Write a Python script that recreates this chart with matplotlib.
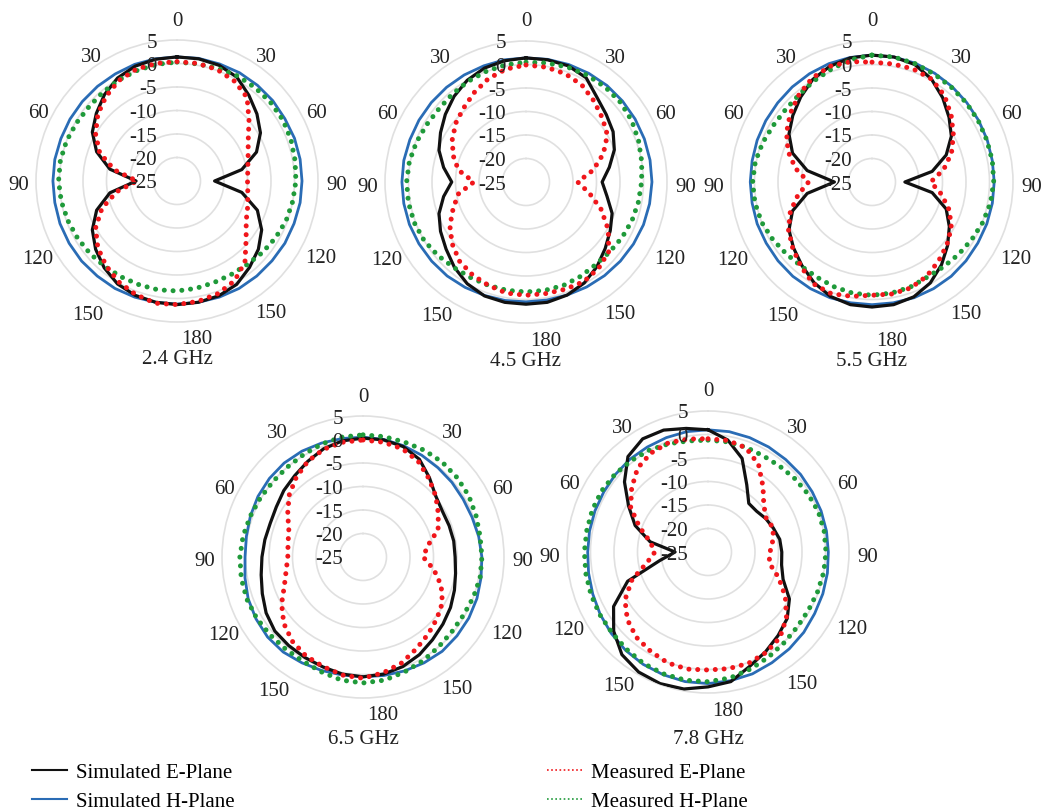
import numpy as np
import matplotlib
matplotlib.use("Agg")
import matplotlib.pyplot as plt
from matplotlib.lines import Line2D
from matplotlib.transforms import offset_copy

plt.rcParams['font.family'] = ['Liberation Serif', 'DejaVu Serif']

# angle (deg, clockwise from top) and gain in dB
angles = list(range(0, 360, 10))

freqs = ['2.4 GHz', '4.5 GHz', '5.5 GHz', '6.5 GHz', '7.8 GHz']

sim_e_24 = [1.4, 1.4, 1.2, 0.5, -1.2, -2.8, -4.5, -7.0, -11.0, -17.0, -11.0, -6.8,
            -4.2, -2.4, -1.0, 0.4, 1.0, 1.2, 1.3, 1.2, 0.9, 0.3, -0.9, -2.4,
            -4.2, -6.8, -10.5, -16.3, -10.5, -6.8, -4.2, -2.6, -1.0, 0.3, 1.0, 1.3]
sim_h_24 = [1.4, 1.5, 1.5, 1.6, 1.6, 1.6, 1.5, 1.6, 1.6, 1.6, 1.6, 1.5,
            1.5, 1.4, 1.4, 1.4, 1.3, 1.2, 1.2, 1.2, 1.3, 1.4, 1.4, 1.5,
            1.5, 1.5, 1.4, 1.4, 1.4, 1.3, 1.3, 1.3, 1.3, 1.3, 1.4, 1.4]
meas_e_24 = [0.4, 0.4, 0.2, -0.5, -1.8, -5.0, -7.5, -8.9, -9.7, -10.0, -9.7, -9.0,
             -8.0, -5.8, -2.5, -0.5, 0.5, 1.0, 1.3, 1.4, 0.7, -0.2, -1.5, -3.0,
             -5.0, -8.0, -12.0, -16.5, -11.5, -7.5, -5.0, -3.0, -1.5, -0.3, 0.3, 0.4]
meas_h_24 = [0.3, 0.3, 0.5, 0.8, 0.9, 1.0, 1.0, 0.8, 0.5, 0.3, 0.0, -0.3,
             -0.8, -1.3, -1.8, -2.0, -2.0, -1.8, -1.6, -1.5, -1.5, -1.4, -1.2, -0.9,
             -0.6, -0.3, 0.0, 0.2, 0.2, 0.0, -0.3, -0.5, -0.4, -0.2, 0.0, 0.2]

sim_e_45 = [1.4, 1.4, 1.3, 0.6, -1.5, -2.7, -3.6, -5.0, -7.0, -8.8, -7.5, -5.5,
            -4.3, -3.0, -1.5, -0.2, 0.6, 1.0, 1.0, 1.0, 0.8, 0.0, -1.3, -2.8,
            -4.0, -5.3, -7.2, -9.2, -7.2, -5.3, -4.0, -2.6, -1.2, 0.0, 0.8, 1.2]
sim_h_45 = [1.4, 1.5, 1.6, 1.7, 1.8, 1.8, 1.8, 1.8, 1.8, 1.8, 1.7, 1.6,
            1.4, 1.2, 1.0, 0.8, 0.6, 0.5, 0.5, 0.6, 0.7, 0.9, 1.1, 1.2,
            1.3, 1.4, 1.4, 1.4, 1.4, 1.3, 1.3, 1.3, 1.3, 1.3, 1.3, 1.4]
meas_e_45 = [-0.1, -0.2, -0.5, -1.2, -2.5, -3.8, -5.0, -7.5, -10.5, -14.0, -11.3, -8.0,
             -4.8, -2.0, -1.0, -0.5, -0.7, -0.9, -0.9, -1.0, -1.6, -2.2, -3.0, -4.5,
             -6.3, -8.5, -10.4, -13.9, -10.4, -8.5, -6.9, -5.5, -4.4, -3.0, -1.6, -0.6]
meas_h_45 = [0.5, 0.7, 1.0, 1.2, 1.3, 1.3, 1.0, 0.5, 0.0, -0.4, -0.7, -1.0,
             -1.4, -1.8, -2.0, -1.8, -1.6, -1.6, -1.6, -1.6, -1.6, -1.5, -1.2, -0.6,
             0.0, 0.3, 0.4, 0.4, 0.2, -0.2, -0.6, -0.8, -0.6, -0.3, 0.0, 0.3]

sim_e_55 = [2.0, 2.0, 1.6, 0.3, -1.6, -3.6, -5.5, -8.2, -12.0, -18.0, -12.0, -8.2,
            -6.0, -4.0, -2.0, -0.2, 1.0, 1.5, 1.6, 1.5, 0.9, -0.3, -1.8, -3.2,
            -4.6, -7.0, -11.0, -17.0, -11.0, -7.0, -4.6, -3.0, -1.4, 0.2, 1.2, 1.8]
sim_h_55 = [2.0, 2.0, 1.9, 1.7, 1.5, 1.3, 1.2, 1.1, 1.0, 1.0, 1.0, 1.0,
            1.0, 1.1, 1.2, 1.2, 1.2, 1.1, 1.1, 1.1, 1.2, 1.2, 1.2, 1.1,
            1.0, 1.0, 0.9, 0.9, 0.9, 1.0, 1.1, 1.2, 1.4, 1.6, 1.8, 1.9]
meas_e_55 = [0.5, 0.5, 0.6, 0.3, -1.0, -3.0, -5.0, -7.0, -9.5, -12.5, -10.0, -7.5,
             -5.5, -4.2, -3.0, -1.8, -1.0, -0.8, -0.9, -0.3, 0.3, 0.0, -1.5, -3.0,
             -4.5, -6.5, -9.0, -11.5, -8.5, -6.0, -4.0, -2.3, -0.8, 0.5, 1.2, 1.0]
meas_h_55 = [2.0, 2.0, 1.8, 1.5, 1.3, 1.2, 1.1, 1.0, 1.0, 0.9, 0.6, 0.1,
             -0.5, -1.0, -1.4, -1.6, -1.2, -1.0, -0.9, -1.0, -1.3, -1.6, -1.6, -1.2,
             -0.6, 0.0, 0.3, 0.4, 0.2, -0.3, -0.8, -1.0, -0.8, -0.2, 0.5, 1.4]

sim_e_65 = [0.3, 0.3, 0.0, -1.0, -3.0, -4.8, -5.5, -5.5, -5.4, -5.4, -5.0, -4.3,
            -3.5, -2.8, -2.0, -1.0, -0.2, 0.3, 0.5, 0.3, -0.1, -0.3, -0.4, -0.5,
            -1.2, -2.2, -3.0, -3.5, -3.8, -4.0, -3.7, -3.0, -2.4, -1.5, -0.5, 0.1]
sim_h_65 = [0.5, 0.4, 0.2, 0.0, -0.2, -0.3, -0.4, -0.3, 0.0, 0.3, 0.5, 0.8,
            1.0, 1.1, 1.2, 1.0, 0.8, 0.6, 0.5, 0.5, 0.7, 1.0, 1.4, 1.5,
            1.3, 1.0, 0.5, 0.1, 0.2, 0.5, 0.8, 1.0, 1.1, 1.0, 0.8, 0.6]
meas_e_65 = [-0.1, -0.2, -0.5, -1.5, -3.2, -4.8, -6.5, -8.0, -11.0, -12.2, -9.7, -7.3,
             -5.5, -4.5, -3.5, -2.4, -1.0, 0.0, 0.8, 0.5, -0.2, -0.7, -1.6, -3.0,
             -5.0, -7.2, -8.4, -9.0, -8.8, -8.2, -6.5, -4.5, -2.9, -1.5, -0.6, -0.2]
meas_h_65 = [1.0, 1.0, 1.0, 1.2, 1.3, 1.2, 1.0, 0.6, 0.3, 0.3, 0.3, 0.0,
             -0.3, -0.3, 0.0, 0.5, 1.0, 1.6, 1.8, 1.6, 1.0, 0.6, 0.6, 0.8,
             1.1, 1.3, 1.3, 1.2, 0.9, 0.5, 0.2, 0.0, 0.0, 0.2, 0.6, 0.9]

sim_e_78 = [1.0, -0.8, -3.8, -8.5, -11.5, -11.5, -10.8, -10.2, -9.5, -9.3, -9.1, -8.0,
            -5.0, -3.0, -1.8, -0.5, 0.9, 3.0, 3.7, 4.6, 4.8, 4.5, 3.5, 1.2,
            -1.8, -6.8, -14.6, -18.0, -12.5, -8.5, -5.5, -1.8, 1.5, 2.8, 2.6, 1.7]
sim_h_78 = [1.0, 1.0, 0.9, 0.8, 0.7, 0.7, 0.6, 0.6, 0.6, 0.6, 0.8, 1.0,
            1.2, 1.6, 1.9, 2.2, 2.6, 2.8, 3.0, 3.0, 2.8, 2.6, 2.3, 1.9,
            1.5, 1.1, 0.8, 0.6, 0.6, 0.6, 0.6, 0.7, 0.8, 0.8, 0.9, 1.0]
meas_e_78 = [-0.9, -0.9, -1.4, -3.5, -6.8, -9.5, -10.7, -10.2, -11.0, -11.8, -11.8, -9.0,
             -6.0, -3.2, -1.2, -0.3, 0.2, 0.2, 0.1, 0.3, 0.1, -0.6, -1.3, -2.6,
             -4.6, -7.8, -11.8, -13.7, -12.5, -9.5, -6.0, -3.8, -1.7, -0.7, -0.3, -0.6]
meas_h_78 = [-1.2, -1.2, -1.3, -1.4, -1.2, -0.8, -0.4, 0.0, 0.1, 0.1, 0.0, -0.2,
             -0.3, -0.2, 0.2, 0.8, 1.5, 2.2, 2.6, 2.7, 2.6, 2.4, 2.0, 1.7,
             1.6, 1.5, 1.4, 1.3, 1.2, 1.2, 1.1, 0.8, 0.4, 0.0, -0.5, -1.0]

sim_e = [sim_e_24, sim_e_45, sim_e_55, sim_e_65, sim_e_78]
sim_h = [sim_h_24, sim_h_45, sim_h_55, sim_h_65, sim_h_78]
meas_e = [meas_e_24, meas_e_45, meas_e_55, meas_e_65, meas_e_78]
meas_h = [meas_h_24, meas_h_45, meas_h_55, meas_h_65, meas_h_78]

r_ticks = [5, 0, -5, -10, -15, -20, -25]
theta_labels = ['0', '30', '60', '90', '120', '150', '180', '150', '120', '90', '60', '30']

W, H = 1042, 811
fig = plt.figure(figsize=(W / 100, H / 100), dpi=100)

# plot centres in pixels (from top-left) and caption offsets
centres = [(177, 181), (526, 182), (872, 182), (363, 557), (708, 552)]
cap_off = [179, 179, 179, 183, 188]
R = 141

# offsets (px) and alignment of the angle labels relative to the outer circle
lab_pos = [(0, 19, 'center'), (8, 1, 'left'), (7, -3, 'left'), (8, -5, 'left'),
           (6, -7, 'left'), (8, -10, 'left'), (20, -18, 'center'), (-3, -12, 'right'),
           (-2, -8, 'right'), (-7, -5, 'right'), (-6, -3, 'right'), (-5, 1, 'right')]

c_black = '#111111'
c_blue = '#2a6cb5'
c_red = '#f0161b'
c_green = '#1f9a3a'
dots = (0, (0.01, 1.75))

th = np.deg2rad(angles + [360])
for i in range(5):
    cx, cy = centres[i]
    ax = fig.add_axes([(cx - R) / W, (H - cy - R) / H, 2 * R / W, 2 * R / H],
                      projection='polar')
    ax.set_theta_zero_location('N')
    ax.set_theta_direction(-1)
    ax.set_ylim(-25, 5)
    ax.set_xticks([])
    ax.set_yticks([-20, -15, -10, -5, 0])
    ax.set_yticklabels([])
    ax.grid(True, color='#e0e0e0', lw=1.2)
    ax.spines['polar'].set_color('#e0e0e0')
    ax.spines['polar'].set_linewidth(1.2)

    ax.plot(th, sim_h[i] + sim_h[i][:1], color=c_blue, lw=2.0, zorder=3)
    ax.plot(th, sim_e[i] + sim_e[i][:1], color=c_black, lw=2.3, zorder=4)
    ax.plot(th, meas_h[i] + meas_h[i][:1], color=c_green, lw=3.6, ls=dots,
            dash_capstyle='round', zorder=5)
    ax.plot(th, meas_e[i] + meas_e[i][:1], color=c_red, lw=3.6, ls=dots,
            dash_capstyle='round', zorder=6)

    for v in r_ticks:
        tr = offset_copy(ax.transData, fig=fig, x=-20, y=-3, units='dots')
        ax.text(0, v, str(v), transform=tr, ha='right', va='center',
                fontsize=15, color='#222222', zorder=7)

    for k, lab in enumerate(theta_labels):
        dx, dy, ha = lab_pos[k]
        tr = offset_copy(ax.transData, fig=fig, x=dx, y=dy, units='dots')
        ax.text(np.deg2rad(30 * k), 5, lab, transform=tr, ha=ha, va='center',
                fontsize=15, color='#222222', clip_on=False)

    ax.text(0.5, 0.5 - cap_off[i] / (2 * R), freqs[i], transform=ax.transAxes,
            ha='center', va='center', fontsize=15, color='#222222')

handles = [Line2D([], [], color=c_black, lw=1.5),
           Line2D([], [], color=c_blue, lw=1.5),
           Line2D([], [], color=c_red, lw=1.2, ls=(0, (1, 1.5))),
           Line2D([], [], color=c_green, lw=1.2, ls=(0, (1, 1.5)))]
labels = ['Simulated E-Plane', 'Simulated H-Plane', 'Measured E-Plane', 'Measured H-Plane']
fig.legend(handles, labels, ncol=2, loc='lower left', bbox_to_anchor=(22 / W, -11 / H),
           frameon=False, fontsize=15, handlelength=1.65, handletextpad=0.45,
           columnspacing=15.0, labelspacing=0.45, borderpad=0)

fig.savefig('out.png', dpi=100)
